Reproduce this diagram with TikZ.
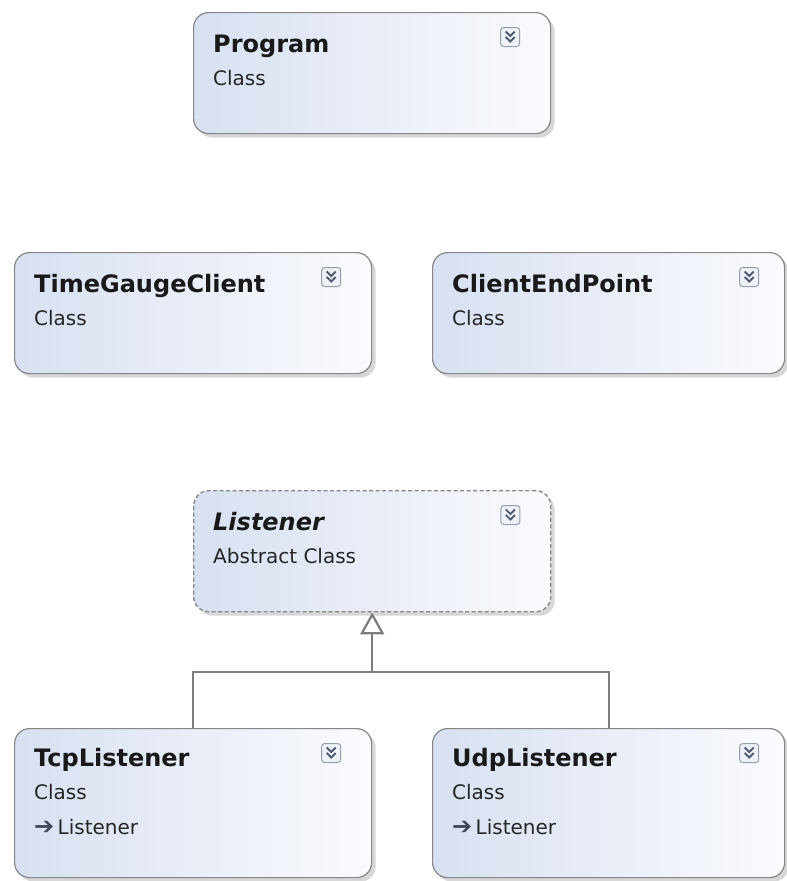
\documentclass[tikz,border=0pt]{standalone}
\usepackage{fontspec}
\setmainfont{DejaVu Sans}
\usetikzlibrary{arrows.meta,shadows,calc}

\definecolor{boxleft}{RGB}{216,224,241}
\definecolor{boxright}{RGB}{250,251,253}
\definecolor{boxedge}{RGB}{135,135,135}
\definecolor{linkgray}{RGB}{125,125,125}
\definecolor{iconedge}{RGB}{150,158,172}
\definecolor{iconfill}{RGB}{238,241,248}
\definecolor{chevron}{RGB}{80,90,112}

\tikzset{
  classbox/.style={draw=boxedge, line width=1.2pt, rounded corners=15pt,
    left color=boxleft, right color=boxright, anchor=north west, inner sep=0pt,
    minimum width=357pt, minimum height=121pt,
    drop shadow={shadow xshift=4pt, shadow yshift=-4pt, fill=black!35, opacity=0.45}},
  abstractbox/.style={classbox, line width=1.4pt, dash pattern=on 4pt off 2.5pt},
  title/.style={anchor=base west, inner sep=0pt, text=black!90,
    font=\fontsize{24}{28}\selectfont\bfseries},
  kind/.style={anchor=base west, inner sep=0pt, text=black!85,
    font=\fontsize{20}{24}\selectfont},
  link/.style={draw=linkgray, line width=2.2pt},
  expander/.pic={
    \draw[draw=iconedge, fill=iconfill, line width=1pt, rounded corners=3pt]
      (-9.5,-9.5) rectangle (9.5,9.5);
    \draw[chevron, line width=1.9pt] (-4.5,-5.5) -- (0,-1) -- (4.5,-5.5);
    \draw[chevron, line width=1.9pt] (-4.5,0) -- (0,4.5) -- (4.5,0);
  }
}

\newcommand{\baseicon}{{\color{chevron!80!black}\fontsize{24}{24}\selectfont ➔}}

\begin{document}
\begin{tikzpicture}[x=1pt,y=-1pt]
  \useasboundingbox (0,0) rectangle (787,881);

  % top row
  \node[classbox] (program) at (193,12) {};
  \node[title] (programname) at ($(program.north west)+(20,40)$) {Program};
  \node[kind] (programkind) at ($(program.north west)+(20,73)$) {Class};
  \pic at ($(program.north east)+(-41,25)$) {expander};

  % middle row
  \node[classbox] (gauge) at (14,252) {};
  \node[title] (gaugename) at ($(gauge.north west)+(20,40)$) {TimeGaugeClient};
  \node[kind] (gaugekind) at ($(gauge.north west)+(20,73)$) {Class};
  \pic at ($(gauge.north east)+(-41,25)$) {expander};

  \node[classbox, minimum width=352pt] (endpoint) at (432,252) {};
  \node[title] (endpointname) at ($(endpoint.north west)+(20,40)$) {ClientEndPoint};
  \node[kind] (endpointkind) at ($(endpoint.north west)+(20,73)$) {Class};
  \pic at ($(endpoint.north east)+(-36,25)$) {expander};

  % abstract base
  \node[abstractbox] (listener) at (193,490) {};
  \node[title, font=\fontsize{24}{28}\selectfont\bfseries\itshape] (listenername)
    at ($(listener.north west)+(20,40)$) {Listener};
  \node[kind] (listenerkind) at ($(listener.north west)+(20,73)$) {Abstract Class};
  \pic at ($(listener.north east)+(-41,25)$) {expander};

  % derived classes
  \node[classbox, minimum height=149pt] (tcp) at (14,728) {};
  \node[title] (tcpname) at ($(tcp.north west)+(20,38)$) {TcpListener};
  \node[kind] (tcpkind) at ($(tcp.north west)+(20,71)$) {Class};
  \node[kind] (tcpbase) at ($(tcp.north west)+(20,106)$) {\baseicon\,Listener};
  \pic at ($(tcp.north east)+(-41,25)$) {expander};

  \node[classbox, minimum width=352pt, minimum height=149pt] (udp) at (432,728) {};
  \node[title] (udpname) at ($(udp.north west)+(20,38)$) {UdpListener};
  \node[kind] (udpkind) at ($(udp.north west)+(20,71)$) {Class};
  \node[kind] (udpbase) at ($(udp.north west)+(20,106)$) {\baseicon\,Listener};
  \pic at ($(udp.north east)+(-36,25)$) {expander};

  % inheritance
  \coordinate (bar) at (listener.south |- 0,672);
  \draw[link] (tcp.north) |- (bar) -| (udp.north);
  \draw[link, -{Triangle[open, fill=white, length=22pt, width=24pt]}] (bar) -- (listener.south);
\end{tikzpicture}
\end{document}
